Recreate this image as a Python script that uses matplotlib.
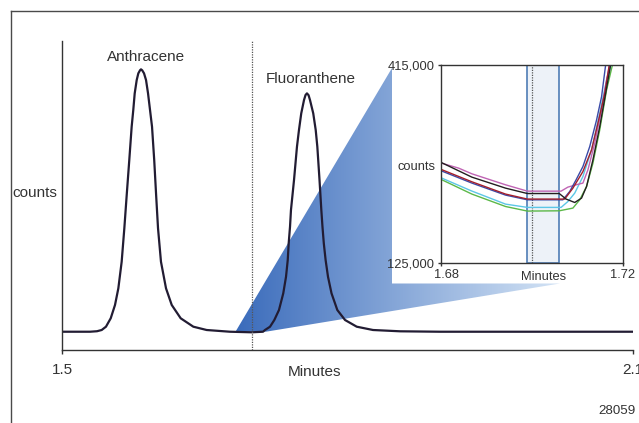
#!/usr/bin/env python3

import matplotlib
matplotlib.use('Agg')
import matplotlib.pyplot as plt
import matplotlib.transforms as mtransforms
import numpy as np
from matplotlib import font_manager
from matplotlib.colors import LinearSegmentedColormap
from matplotlib.patches import Polygon

# full chromatogram (minutes, counts in thousands)
main_time = [1.5000, 1.5294, 1.5368, 1.5417, 1.5462, 1.5512, 1.5557, 1.5592, 1.5627,
             1.5655, 1.5680, 1.5707, 1.5732, 1.5749, 1.5764, 1.5785, 1.5802, 1.5820,
             1.5830, 1.5843, 1.5862, 1.5883, 1.5904, 1.5925, 1.5946, 1.5969, 1.5989,
             1.6009, 1.6040, 1.6093, 1.6153, 1.6247, 1.6380, 1.6520, 1.6765, 1.6996,
             1.7112, 1.7133, 1.7186, 1.7231, 1.7280, 1.7325, 1.7354, 1.7372, 1.7382,
             1.7396, 1.7406, 1.7438, 1.7469, 1.7490, 1.7514, 1.7543, 1.7559, 1.7574,
             1.7591, 1.7606, 1.7640, 1.7666, 1.7683, 1.7706, 1.7725, 1.7737, 1.7751,
             1.7770, 1.7795, 1.7832, 1.7893, 1.7974, 1.8097, 1.8268, 1.8552, 1.8972,
             2.1000]
main_counts_k = [254, 254, 261, 278, 324, 441, 626, 857, 1227,
                 1692, 2155, 2641, 3104, 3336, 3568, 3753, 3846, 3889,
                 3902, 3888, 3846, 3753, 3568, 3336, 3104, 2641, 2155,
                 1692, 1227, 857, 626, 441, 324, 278, 254, 246,
                 254, 278, 324, 417, 556, 788, 1019, 1251, 1483,
                 1714, 1946, 2363, 2826, 3058, 3290, 3475, 3545, 3568,
                 3542, 3475, 3290, 3058, 2826, 2363, 1946, 1714, 1483,
                 1251, 1019, 788, 556, 417, 324, 278, 260, 254,
                 254]

peak_names = ['Anthracene', 'Fluoranthene']
peak_label_time = [1.5879, 1.7616]
peak_label_counts_k = [4073, 3767]

# zoomed region, six overlaid runs
green_time = [1.6800, 1.6869, 1.6943, 1.6991, 1.7061, 1.7091, 1.7106, 1.7121, 1.7135, 1.7150, 1.7165, 1.7178, 1.7184]
green_k = [247.4, 225.5, 207.3, 200.6, 201.0, 205.0, 217.1, 236.6, 270.8, 319.5, 378.0, 415.0, 440.0]
cyan_time = [1.6800, 1.6869, 1.6943, 1.6991, 1.7065, 1.7080, 1.7095, 1.7113, 1.7132, 1.7150, 1.7165, 1.7175, 1.7181]
cyan_k = [249.7, 229.9, 210.8, 206.0, 206.0, 214.6, 226.9, 251.2, 290.3, 343.9, 392.6, 415.0, 440.0]
magenta_time = [1.6800, 1.6840, 1.6869, 1.6943, 1.6991, 1.7065, 1.7080, 1.7098, 1.7113, 1.7124, 1.7139, 1.7154, 1.7165, 1.7172, 1.7178]
magenta_k = [271.2, 263.5, 255.2, 239.1, 229.8, 229.8, 235.7, 239.1, 241.6, 261.0, 300.0, 348.7, 392.6, 415.0, 440.0]
blue_time = [1.6800, 1.6869, 1.6943, 1.6991, 1.7069, 1.7084, 1.7098, 1.7113, 1.7128, 1.7143, 1.7154, 1.7163, 1.7169]
blue_k = [260.0, 241.6, 224.0, 217.1, 217.1, 229.3, 246.4, 265.8, 295.1, 334.1, 368.2, 415.0, 440.0]
red_time = [1.6800, 1.6869, 1.6943, 1.6991, 1.7073, 1.7091, 1.7113, 1.7132, 1.7146, 1.7161, 1.7171, 1.7177]
red_k = [262.0, 243.5, 225.5, 218.2, 218.2, 234.2, 258.5, 290.3, 329.3, 373.2, 415.0, 440.0]
black_time = [1.6800, 1.6869, 1.6943, 1.6991, 1.7061, 1.7076, 1.7095, 1.7110, 1.7121, 1.7135, 1.7150, 1.7163, 1.7174, 1.7180]
black_k = [272.3, 250.3, 234.2, 226.3, 226.3, 218.2, 213.2, 219.6, 236.6, 275.6, 324.3, 373.2, 415.0, 440.0]

inset_x_ticks = [1.68, 1.72]
inset_y_ticks_k = [125, 415]
main_x_ticks = [1.5, 2.1]


def pick_font():
    for name in ['Liberation Sans Narrow', 'Liberation Sans']:
        try:
            font_manager.findfont(name, fallback_to_default=False)
            return name
        except ValueError:
            pass
    return 'DejaVu Sans'


def main():
    family = pick_font()
    scale = 1.0 if family == 'Liberation Sans Narrow' else 0.88
    plt.rcParams['font.family'] = [family, 'DejaVu Sans']
    fs_main = 12.5 * scale
    fs_inset = 10.5 * scale
    txt = '#333333'

    W, H = 639, 423
    fig = plt.figure(figsize=(W / 100, H / 100), dpi=100)

    # pixel-space layer for the frame and the zoom lens
    bg = fig.add_axes([0, 0, 1, 1], zorder=0)
    bg.axis('off')
    cmap = LinearSegmentedColormap.from_list('lens', ['#3a6bbb', '#d3e3f5'])
    grad = np.linspace(0, 1, 256).reshape(1, -1)
    im = bg.imshow(grad, cmap=cmap, extent=(235, 560, 332, 68), aspect='auto',
                   interpolation='bicubic')
    lens = Polygon([(235.5, 331.7), (392, 68), (392, 283.5), (560, 283.5), (266, 331.7)],
                   closed=True, facecolor='none', edgecolor='none')
    bg.add_patch(lens)
    im.set_clip_path(lens)
    bg.plot([10.7, W], [10.7, 10.7], color='#4a4a4a', lw=1.0)
    bg.plot([10.7, 10.7], [10.7, H], color='#4a4a4a', lw=1.0)
    bg.set_xlim(0, W)
    bg.set_ylim(H, 0)

    # main chromatogram
    ax = fig.add_axes([62 / W, 1 - 350 / H, 571 / W, 309.3 / H], zorder=1)
    ax.patch.set_alpha(0)
    ax.plot(main_time, main_counts_k, color='#221c33', lw=1.6, solid_joinstyle='round')
    ax.axvline(1.70, color='#555555', ls=(0, (1, 1)), lw=0.9)
    ax.set_xlim(1.5, 2.1)
    ax.set_ylim(0, 4300)
    for s in ['top', 'right']:
        ax.spines[s].set_visible(False)
    for s in ['left', 'bottom']:
        ax.spines[s].set_color('#333333')
        ax.spines[s].set_linewidth(1.0)
    ax.set_yticks([])
    ax.set_xticks(main_x_ticks)
    ax.set_xticklabels([f'{v:.1f}' for v in main_x_ticks])
    ax.tick_params(axis='x', length=3, width=1.0, color='#333333', pad=6,
                   labelsize=fs_main, labelcolor=txt)
    ax.text(0.443, -0.071, 'Minutes', transform=ax.transAxes, ha='center', va='center',
            fontsize=fs_main, color=txt)
    ax.text(-0.047, 0.508, 'counts', transform=ax.transAxes, ha='center', va='center',
            fontsize=fs_main, color=txt)
    for name, t, c in zip(peak_names, peak_label_time, peak_label_counts_k):
        ax.text(t, c, name, ha='center', va='center', fontsize=fs_main, color=txt,
                clip_on=False)

    fig.text(636 / W, 1 - 411 / H, '28059', ha='right', va='center',
             fontsize=11 * scale, color=txt)

    # zoomed inset
    ins = fig.add_axes([440.5 / W, 1 - 262.7 / H, 182 / W, 198 / H], zorder=2)
    ins.axvspan(1.699, 1.706, facecolor='#edf2f8', edgecolor='#4f7db5', lw=1.2, zorder=0)
    ins.axvline(1.70, color='#555555', ls=(0, (1, 1)), lw=0.9, zorder=1)
    runs = [
        (green_time, green_k, '#5cb848'),
        (cyan_time, cyan_k, '#5cc6e6'),
        (magenta_time, magenta_k, '#c064b4'),
        (blue_time, blue_k, '#3a4aa8'),
        (red_time, red_k, '#a31f2b'),
        (black_time, black_k, '#231f20'),
    ]
    for t, k, col in runs:
        ins.plot(t, k, color=col, lw=1.0, zorder=2)
    ins.set_xlim(1.68, 1.72)
    ins.set_ylim(125, 415)
    for s in ins.spines.values():
        s.set_color('#333333')
        s.set_linewidth(1.0)
    ins.set_xticks(inset_x_ticks)
    ins.set_xticklabels([f'{v:.2f}' for v in inset_x_ticks])
    ins.set_yticks(inset_y_ticks_k)
    ins.set_yticklabels([f'{v * 1000:,}' for v in inset_y_ticks_k])
    ins.tick_params(length=2.5, width=1.0, color='#333333', pad=2,
                    labelsize=fs_inset, labelcolor=txt)
    # left x label sits a little right of its tick so it clears "125,000"
    nudge = mtransforms.ScaledTranslation(0.06, 0, fig.dpi_scale_trans)
    first = ins.get_xticklabels()[0]
    first.set_transform(first.get_transform() + nudge)
    ins.text(0.565, -0.072, 'Minutes', transform=ins.transAxes, ha='center', va='center',
             fontsize=fs_inset, color=txt)
    ins.text(-0.133, 0.483, 'counts', transform=ins.transAxes, ha='center', va='center',
             fontsize=fs_inset, color=txt)

    plt.savefig('out.png', dpi=100)


if __name__ == "__main__":
    main()
